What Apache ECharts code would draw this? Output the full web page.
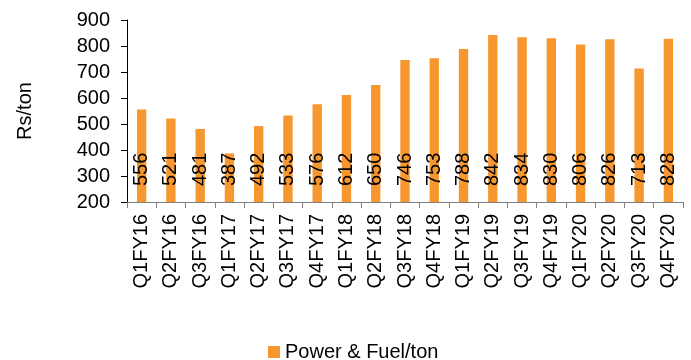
<!DOCTYPE html>
<html>
<head>
<meta charset="utf-8">
<script src="https://cdn.jsdelivr.net/npm/echarts@6/dist/echarts.min.js"></script>
<style>
  html, body { margin: 0; padding: 0; background: #fff; }
  #chart { width: 691px; height: 360px; }
</style>
</head>
<body>
<div id="chart"></div>
<script>
// Quarterly power & fuel cost per ton
const quarters = ['Q1FY16','Q2FY16','Q3FY16','Q1FY17','Q2FY17','Q3FY17','Q4FY17',
  'Q1FY18','Q2FY18','Q3FY18','Q4FY18','Q1FY19','Q2FY19','Q3FY19','Q4FY19',
  'Q1FY20','Q2FY20','Q3FY20','Q4FY20'];
const powerFuelPerTon = [556,521,481,387,492,533,576,612,650,746,753,788,842,834,830,806,826,713,828];
const seriesName = 'Power & Fuel/ton';
const yAxisTitle = 'Rs/ton';

const FONT = '"Liberation Sans", Arial, sans-serif';
const BAR_COLOR = '#F7972F';

const chart = echarts.init(document.getElementById('chart'));
chart.setOption({
  animation: false,
  textStyle: { fontFamily: FONT },
  grid: { left: 127, right: 8, top: 20, bottom: 158, containLabel: false },
  legend: {
    data: [seriesName],
    left: 263,
    top: 337,
    itemWidth: 12,
    itemHeight: 12,
    itemGap: 6,
    icon: 'rect',
    textStyle: { fontSize: 20, color: '#000', fontFamily: FONT }
  },
  xAxis: {
    type: 'category',
    data: quarters,
    axisLine: { lineStyle: { color: '#808080', width: 1 } },
    axisTick: { show: true, length: 6, alignWithLabel: false, lineStyle: { color: '#808080' } },
    axisLabel: { rotate: 90, fontSize: 20, color: '#000', margin: 12, interval: 0, fontFamily: FONT }
  },
  yAxis: {
    type: 'value',
    min: 200,
    max: 900,
    interval: 100,
    name: yAxisTitle,
    nameLocation: 'middle',
    nameGap: 92,
    nameTextStyle: { fontSize: 20, color: '#000', fontFamily: FONT },
    axisLine: { show: true, lineStyle: { color: '#000', width: 1 } },
    axisTick: { show: true, length: 6, lineStyle: { color: '#000' } },
    splitLine: { show: false },
    axisLabel: { fontSize: 20, color: '#000', margin: 17, fontFamily: FONT }
  },
  series: [{
    name: seriesName,
    type: 'bar',
    data: powerFuelPerTon,
    barWidth: '32%',
    itemStyle: { color: BAR_COLOR },
    label: {
      show: true,
      position: 'insideBottom',
      rotate: 90,
      align: 'left',
      verticalAlign: 'middle',
      distance: 16,
      fontSize: 20,
      color: '#000',
      fontFamily: FONT
    }
  }]
});
</script>
</body>
</html>
